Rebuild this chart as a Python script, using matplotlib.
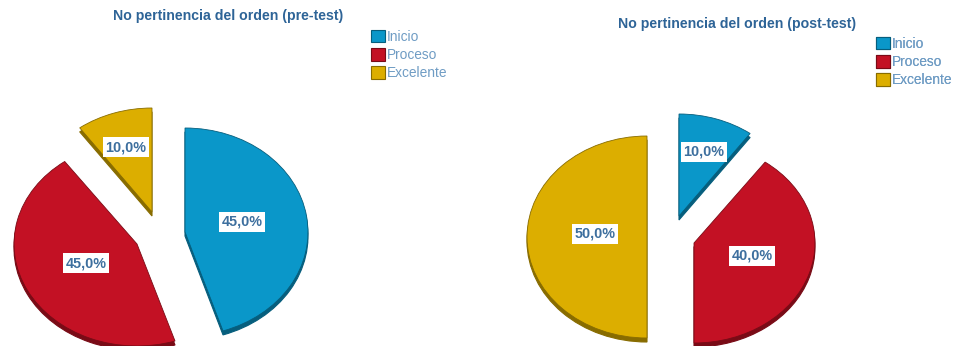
import matplotlib
matplotlib.use("Agg")
import matplotlib.pyplot as plt
from matplotlib.patches import Wedge, Patch
from matplotlib.transforms import Affine2D
import colorsys
from matplotlib.colors import to_rgb

categories = ["Inicio", "Proceso", "Excelente"]
pre_test = [45.0, 45.0, 10.0]
post_test = [10.0, 40.0, 50.0]
pre_title = "No pertinencia del orden (pre-test)"
post_title = "No pertinencia del orden (post-test)"

COLORS = {"Inicio": "#0a97c9", "Proceso": "#c31124", "Excelente": "#dcae00"}
TITLE_COLOR = "#2e6497"
LEGEND_COLOR = "#6f9cc4"
LABEL_COLOR = "#3d6f9e"
DEPTH = 4

plt.rcParams["font.family"] = ["Liberation Sans", "DejaVu Sans"]
fig = plt.figure(figsize=(9.54, 3.46), dpi=100)
ax = fig.add_axes([0, 0, 1, 1])
ax.set_xlim(0, 954)
ax.set_ylim(346, 0)
ax.axis("off")


def darker(color, factor=0.62):
    h, l, s = colorsys.rgb_to_hls(*to_rgb(color))
    return colorsys.hls_to_rgb(h, l * factor, s)


def draw_pie(values, layout, title, title_xy, legend_xy):
    # Slices run clockwise from twelve o'clock on a flattened disc.
    start = 90.0
    for name, value, (cx, cy, rx, ry, lx, ly) in zip(categories, values, layout):
        end = start - value * 3.6
        color = COLORS[name]
        side = darker(color)
        base = Affine2D().scale(rx, -ry)
        ax.add_patch(Wedge((0, 0), 1, end, start, facecolor=side, edgecolor=side, linewidth=0.8,
                           transform=base + Affine2D().translate(cx, cy + DEPTH) + ax.transData))
        ax.add_patch(Wedge((0, 0), 1, end, start, facecolor=color, edgecolor=side, linewidth=0.6,
                           transform=base + Affine2D().translate(cx, cy) + ax.transData))
        ax.text(lx, ly, f"{value:.1f}%".replace(".", ","), ha="center", va="center",
                fontsize=10.4, color=LABEL_COLOR, fontweight="bold",
                bbox=dict(boxstyle="square,pad=0.2", facecolor="white", edgecolor="none"))
        start = end
    ax.text(*title_xy, title, ha="center", va="center", fontsize=10.2,
            fontweight="bold", color=TITLE_COLOR)
    handles = [Patch(facecolor=COLORS[c], edgecolor=darker(COLORS[c]), linewidth=0.8) for c in categories]
    legend = ax.legend(handles, categories, loc="upper left", bbox_to_anchor=legend_xy,
                       bbox_transform=ax.transData, frameon=False, prop={"size": 9.9},
                       borderpad=0, borderaxespad=0, handlelength=1.0, handleheight=1.0,
                       handletextpad=0.15, labelspacing=0.3, labelcolor=LEGEND_COLOR)
    ax.add_artist(legend)


# Per-slice centre, radii and label position in pixel space.
pre_layout = [
    (185, 232, 123, 104, 242, 222),
    (137, 244, 123, 102, 86, 263),
    (152, 212, 123, 104, 126, 147),
]
post_layout = [
    (679, 216, 121, 102, 704, 152),
    (694, 243, 121, 100, 752, 256),
    (647, 237, 120, 101, 595, 234),
]

draw_pie(pre_test, pre_layout, pre_title, (228, 16), (371, 30))
draw_pie(post_test, post_layout, post_title, (737, 24), (876, 37))

fig.savefig("out.png", dpi=100)
